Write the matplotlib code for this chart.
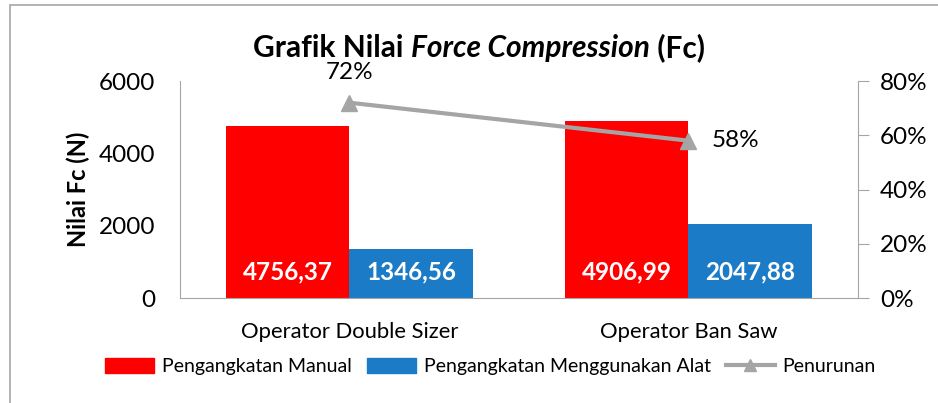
import numpy as np
import matplotlib.pyplot as plt
from matplotlib.patches import Patch, Rectangle
from matplotlib.lines import Line2D

plt.rcParams['font.family'] = ['Lato', 'DejaVu Sans']

# data
kategori = ["Operator Double Sizer", "Operator Ban Saw"]
manual = [4756.37, 4906.99]
alat = [1346.56, 2047.88]
penurunan = [0.72, 0.58]
label_manual = ["4756,37", "4906,99"]
label_alat = ["1346,56", "2047,88"]

merah = "#FF0000"
biru = "#1B7BC7"
abu = "#A5A5A5"

fig = plt.figure(figsize=(9.38, 4.03), dpi=100)
ax = fig.add_axes([0.1919, 0.2605, 0.9147 - 0.1919, 0.799 - 0.2605])
x = np.arange(len(kategori))
w = 0.363

b1 = ax.bar(x - w / 2, manual, w, color=merah, zorder=2)
b2 = ax.bar(x + w / 2, alat, w, color=biru, zorder=2)
for rect, t in zip(b1, label_manual):
    ax.text(rect.get_x() + rect.get_width() / 2, 720, t, ha="center", va="center",
            color="white", fontsize=17.5, fontweight="bold", zorder=3)
for rect, t in zip(b2, label_alat):
    ax.text(rect.get_x() + rect.get_width() / 2, 720, t, ha="center", va="center",
            color="white", fontsize=17.5, fontweight="bold", zorder=3)

ax.set_xlim(-0.5, 1.5)
ax.set_ylim(0, 6000)
ax.set_yticks([0, 2000, 4000, 6000])
ax.set_xticks(x)
ax.set_xticklabels(kategori, fontsize=15.8)
ax.tick_params(axis="y", length=0, labelsize=17.5, pad=18)
ax.tick_params(axis="x", length=0, pad=17)
for s in ["top", "right"]:
    ax.spines[s].set_visible(False)
for s in ["left", "bottom"]:
    ax.spines[s].set_color(abu)
ax.set_ylabel("Nilai Fc (N)", fontsize=17, fontweight="bold", labelpad=6)

ax2 = ax.twinx()
ax2.plot(x, penurunan, color=abu, lw=3, marker="^", markersize=11, zorder=4)
ax2.set_ylim(0, 0.8)
ax2.set_yticks([0, 0.2, 0.4, 0.6, 0.8])
ax2.set_yticklabels(["0%", "20%", "40%", "60%", "80%"])
ax2.tick_params(axis="y", length=8, color=abu, labelsize=17.5, pad=8)
for s in ["top", "left", "bottom"]:
    ax2.spines[s].set_visible(False)
ax2.spines["right"].set_color(abu)
ax2.annotate("72%", (x[0], penurunan[0]), xytext=(0, 22), textcoords="offset points",
             ha="center", va="center", fontsize=17.5)
ax2.annotate("58%", (x[1], penurunan[1]), xytext=(17, 0), textcoords="offset points",
             ha="left", va="center", fontsize=17.5)

# title with italic middle part
fig.canvas.draw()
r = fig.canvas.get_renderer()
parts = [("Grafik Nilai ", "normal"), ("Force Compression", "italic"), (" (Fc)", "normal")]
objs = []
for t, st in parts:
    objs.append(fig.text(0, 0.882, t, fontsize=21.5, fontweight="bold", style=st, va="center"))
ws = [o.get_window_extent(r).width for o in objs]
total = sum(ws)
x0 = 479 - total / 2
for o, wd in zip(objs, ws):
    o.set_x(x0 / fig.bbox.width)
    x0 += wd

handles = [Patch(color=merah), Patch(color=biru),
           Line2D([], [], color=abu, lw=3, marker="^", markersize=9)]
labels = ["Pengangkatan Manual", "Pengangkatan Menggunakan Alat", "Penurunan"]
fig.legend(handles, labels, loc="center", bbox_to_anchor=(0.523, 0.09), ncol=3,
           frameon=False, fontsize=14, handlelength=2.5, handleheight=0.8,
           columnspacing=0.8, handletextpad=0.4)

fig.patches.append(Rectangle((10 / 938, -0.1), 1.0, 1 - 5 / 403 + 0.1, transform=fig.transFigure,
                             fill=False, edgecolor=abu, lw=1.2))

fig.savefig("out.png", dpi=100)
